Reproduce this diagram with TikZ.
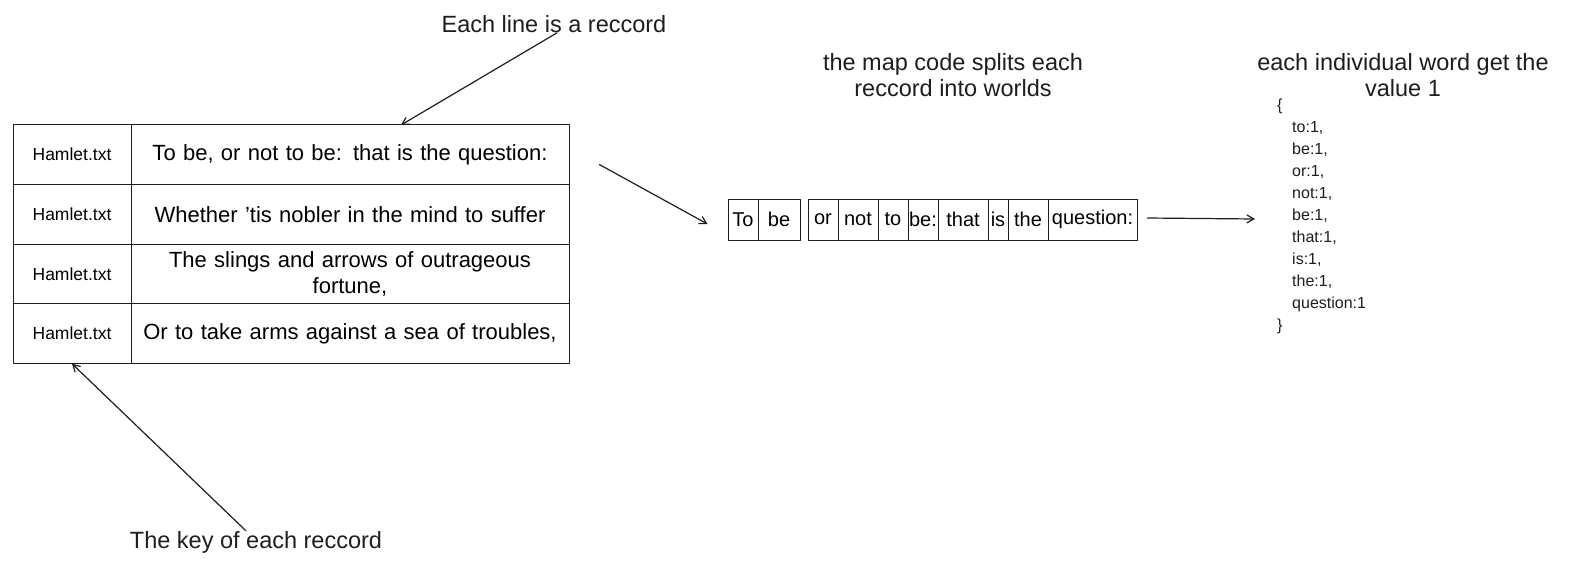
\documentclass[tikz,border=0pt]{standalone}
\usepackage{fontspec}
\setmainfont{Liberation Sans}
\usepackage{xcolor}
\usepackage{tikz}
\usetikzlibrary{arrows.meta}
\definecolor{bg}{HTML}{FFFFFF}
\definecolor{ink}{HTML}{1E1E1E}
\tikzset{
  cell/.style={draw=ink, line width=1pt, inner sep=0pt, line join=round},
  keycell/.style={cell, minimum width=118pt, minimum height=59.6pt, font=\fontsize{17.5}{20}\selectfont},
  linecell/.style={cell, minimum width=438pt, minimum height=59.6pt, text width=430pt, align=center, font=\fontsize{22}{26}\selectfont},
  wordbox/.style={cell, minimum height=41pt, font=\fontsize{20}{22}\selectfont},
  arr/.style={draw=ink, line width=1.2pt, line cap=round, -{Straight Barb[length=7pt,width=8pt]}},
  lab/.style={text=ink, font=\fontsize{23.5}{26}\selectfont, align=center, inner sep=0pt},
  labc/.style={text=ink, font=\fontsize{16}{22}\selectfont, align=left, inner sep=0pt},
}
\begin{document}
\begin{tikzpicture}[x=1pt,y=-1pt]
  \fill[bg] (0,0) rectangle (1576,568);
  \useasboundingbox (0,0) rectangle (1576,568);
  % table of records
  \foreach \i/\t in {1/{To be, or not to be: that is the question:},
                     2/{Whether 'tis nobler in the mind to suffer},
                     3/{The slings and arrows of outrageous\\fortune,},
                     4/{Or to take arms against a sea of troubles,}}{
    \node[keycell] (k\i) at (72,95+59.6*\i) {Hamlet.txt};
    \node[linecell] (l\i) at (350,95+59.6*\i) {\t};
  }
  \node[lab] (recordlbl) at (554,24) {Each line is a reccord};
  \coordinate (l1top) at (401,125);
  \draw[arr] ([xshift=3pt]recordlbl.south) -- (l1top);
  \node[lab] (keylbl) at (256,542) {The key of each reccord};
  \draw[arr] ([xshift=-10pt]keylbl.north) -- (k4.south);
  % words of the first record
  \foreach \n/\w/\x/\d in {1/To/743/30, 2/be/779/42, 3/or/823/30, 4/not/858/40,
                           5/to/893/30, 6/be:/923/30, 7/that/963/50, 8/is/998/20,
                           9/the/1028/40, 10/question:/1092.5/89}{
    \node[wordbox, minimum width=\d pt] (w\n) at (\x,219.5) {\w};
  }
  \node[lab] (maplbl) at (953,75) {the map code splits each\\reccord into worlds};
  \draw[arr] ([xshift=30pt,yshift=-10pt]l1.east) -- ([xshift=-20pt,yshift=-4.5pt]w1.west);
  % key/value output
  \node[lab] (valuelbl) at (1403,75) {each individual word get the\\value 1};
  \node[labc, anchor=west] (pairs) at (1277,216.5) {\{\\
    \hspace*{15pt}to:1,\\ \hspace*{15pt}be:1,\\ \hspace*{15pt}or:1,\\ \hspace*{15pt}not:1,\\
    \hspace*{15pt}be:1,\\ \hspace*{15pt}that:1,\\ \hspace*{15pt}is:1,\\ \hspace*{15pt}the:1,\\
    \hspace*{15pt}question:1\\ \}};
  \draw[arr] ([xshift=10pt,yshift=1.5pt]w10.east) -- ([xshift=-22pt,yshift=-2.5pt]pairs.west);
\end{tikzpicture}
\end{document}
